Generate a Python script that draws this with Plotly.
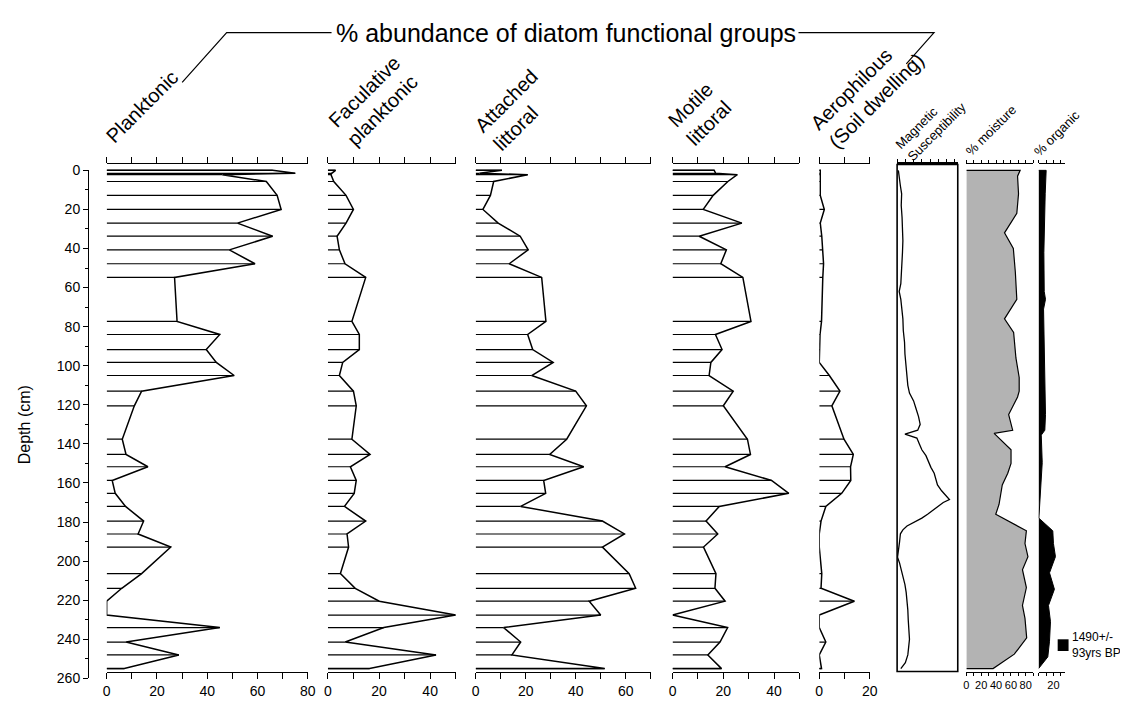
import plotly.graph_objects as go

# screen size and the default 8px body margin of the html page
SW, SH = 1128, 702
OFF = 8
W, H = SW - OFF, SH - OFF

# ---------------- data ----------------
depth = [0, 1.5, 2.2, 5.7, 12.8, 20, 27, 33.7, 40.7, 47.8, 54.8, 77.3, 84, 91.7, 98.3, 105,
         113, 120.5, 137.6, 145.4, 151.7, 158.7, 165.3, 172, 179.5, 186.1, 192.8, 206.4,
         213.9, 220.5, 227.6, 234, 241.4, 248, 255]

planktonic = [66, 75, 46, 63.5, 67.8, 69.4, 52, 66, 48.8, 59, 27, 28, 45, 39.6, 43.6, 50.7,
              13.9, 11, 6.2, 7.7, 16.4, 2.2, 3.4, 7.5, 14.7, 12.5, 25.5, 13.9, 6, 0, 0, 45,
              7.7, 28.7, 7]
facultative = [3, 1.5, 1.2, 2.3, 7.1, 10, 7.1, 3.6, 4.5, 6.7, 14.8, 9.4, 12.3, 12.3, 5.8, 4.5,
               10, 11.1, 9.4, 16.5, 8.8, 11.1, 10.3, 6.5, 14.8, 7.5, 8.1, 4.9, 10.7, 20.1, 50,
               21.9, 6.8, 42.3, 16.3]
attached = [10.5, 1.5, 20.8, 7.2, 5.9, 2.9, 9, 17.8, 21, 13.4, 26.4, 28.1, 20.8, 22.8, 31, 22.4,
            40, 44.3, 36.4, 29.6, 43.2, 27.2, 28, 18, 50.7, 59.5, 50.7, 61.4, 64, 45.4, 50,
            11.2, 18, 14.5, 51.6]
motile = [16.4, 17, 25.5, 21.8, 16, 12.1, 27.3, 10.5, 21.2, 19, 27.7, 30.9, 16.9, 19.5, 15.1,
          14.4, 23.9, 20, 29.5, 30.7, 20.7, 39, 45.8, 18.4, 13.2, 17.8, 12.2, 17.1, 16.7, 20.7,
          0, 21.7, 18.7, 13.9, 19.3]
aerophilous = [0.4, 0.4, 0.4, 0.4, 0.4, 2, 0.4, 1, 1.4, 1.7, 1.4, 0.9, 0.3, 0.2, 0, 4, 8.2, 5,
               9.8, 13.5, 12.4, 12.5, 8.9, 2.6, 0.7, 0, 0, 1, 0.7, 13.9, 0, 0, 2.6, 0, 0.9]

mag_depth = [0, 4, 8, 12, 18, 24, 30, 36, 42, 48, 54, 58, 62, 66, 70, 76, 82, 88, 94, 100, 106,
             110, 114, 118, 122, 126, 130, 133, 135, 137, 140, 143, 146, 149, 152, 155, 158,
             161, 164, 166, 168.5, 170, 172, 174, 176, 178, 180, 182, 184, 186, 190, 194, 198,
             201, 204, 208, 212, 216, 220, 225, 230, 235, 240, 244, 248, 252, 255]
mag_value = [0.15, 0.25, 0.4, 0.55, 0.5, 0.6, 0.65, 0.7, 0.65, 0.6, 0.55, 0.45, 0.25, 0.45, 0.55,
             0.7, 0.75, 0.9, 0.95, 1.05, 1.15, 1.3, 1.5, 2.0, 2.3, 2.6, 2.8, 2.5, 0.95, 2.4, 2.7,
             3.0, 3.5, 3.8, 4.1, 4.5, 4.7, 4.9, 5.4, 5.8, 6.35, 5.6, 5.0, 4.3, 3.7, 3.0, 2.0, 1.2,
             0.7, 0.4, 0.3, 0.2, 0.05, 0.3, 0.5, 0.7, 0.95, 1.1, 1.2, 1.3, 1.35, 1.4, 1.5, 1.4,
             1.3, 1.0, 0.45]

moist_depth = [0, 3, 12, 22, 32, 40, 52, 66, 76, 83, 96, 106, 113, 116, 125, 133, 134.6, 143,
               150, 155, 161, 171, 176, 184.5, 191, 197.7, 204.4, 213.5, 222.7, 229.3, 239.3,
               247.6, 255]
moisture = [72.5, 69, 70.3, 68, 51.4, 63.3, 66, 68, 51.4, 63.7, 66.8, 71.2, 71.2, 69, 57, 62.4,
            37.4, 60.2, 60.2, 55.8, 48.4, 44, 39.6, 80.9, 79, 83, 75.6, 80.9, 75.6, 79, 81.3,
            64.6, 36]

org_depth = [0, 12, 29, 42, 62, 66, 71, 96, 113, 125, 133, 135.5, 149.6, 174.6, 178, 184.5, 191,
             197.7, 206, 214.4, 222.7, 231, 241, 249, 255]
organic = [10.2, 8.9, 8, 7.1, 7.6, 9.3, 6.7, 8, 8.9, 9.3, 8.4, 3.6, 4.9, 1.3, 0.4, 19.1, 20, 22.7,
           14.7, 21.3, 13.3, 16, 14.7, 12.4, 0]

# ---------------- helpers ----------------
FONT = "Liberation Sans, Arial, sans-serif"
NARROW = "Liberation Sans Narrow, Liberation Sans, Arial, sans-serif"


def px(x):
    """screen x pixel -> paper fraction"""
    return (x - OFF) / W


def py(y):
    """screen y pixel -> paper fraction"""
    return 1 - (y - OFF) / H


fig = go.Figure()

panels = [
    ("planktonic", planktonic, "x", (103.7, 307.0), 80),
    ("facultative", facultative, "x2", (327.3, 456.5), 50),
    ("attached", attached, "x3", (476.7, 653.6), 70),
    ("motile", motile, "x4", (675.7, 804.0), 50),
    ("aerophilous", aerophilous, "x5", (824.0, 875.0), 20),
]

layout_axes = {}
for name, vals, ax, (d0, d1), vmax in panels:
    fig.add_trace(go.Scatter(
        x=[0] + vals + [0], y=[depth[0]] + depth + [depth[-1]],
        mode="lines", fill="toself", fillcolor="white",
        line=dict(color="black", width=1.5), xaxis=ax, yaxis="y2",
        hoverinfo="skip", showlegend=False))
    hx, hy = [], []
    for d, v in zip(depth, vals):
        hx += [0, v, None]
        hy += [d, d, None]
    fig.add_trace(go.Scatter(
        x=hx, y=hy, mode="lines", line=dict(color="black", width=1.2),
        xaxis=ax, yaxis="y2", hoverinfo="skip", showlegend=False))
    tv = list(range(0, vmax + 1, 10))
    tt = [str(t) if t % 20 == 0 else "" for t in tv]
    key = "xaxis" if ax == "x" else "xaxis" + ax[1:]
    layout_axes[key] = dict(
        domain=[px(d0), px(d1)], range=[0, vmax], anchor="y2",
        showline=True, linecolor="black", linewidth=1.4, mirror="ticks",
        ticks="outside", ticklen=6, tickwidth=1.2, tickcolor="black",
        tickvals=tv, ticktext=tt,
        tickfont=dict(family=FONT, size=14, color="black"),
        showgrid=False, zeroline=False)

# magnetic susceptibility
fig.add_trace(go.Scatter(x=mag_value, y=mag_depth, mode="lines",
                         line=dict(color="black", width=1.3), xaxis="x6", yaxis="y2",
                         hoverinfo="skip", showlegend=False))
layout_axes["xaxis6"] = dict(
    domain=[px(902.7), px(964.0)], range=[0, 7.36], anchor="y2", side="top",
    showline=True, linecolor="black", linewidth=2.2, ticks="outside", ticklen=3,
    tickcolor="black", tickvals=list(range(0, 8)), showticklabels=False,
    showgrid=False, zeroline=False)

# moisture
fig.add_trace(go.Scatter(x=[0] + moisture + [0],
                         y=[moist_depth[0]] + moist_depth + [moist_depth[-1]],
                         mode="lines", fill="toself", fillcolor="#b3b3b3",
                         line=dict(color="black", width=1.2), xaxis="x7", yaxis="y2",
                         hoverinfo="skip", showlegend=False))
mv = list(range(0, 91, 10))
layout_axes["xaxis7"] = dict(
    domain=[px(972.7), px(1040.2)], range=[0, 90], anchor="y2",
    showline=True, linecolor="black", linewidth=1.3, mirror="ticks",
    ticks="outside", ticklen=3, tickcolor="black", tickvals=mv,
    ticktext=[str(t) if t % 20 == 0 else "" for t in mv],
    tickfont=dict(family=NARROW, size=11, color="black"),
    showgrid=False, zeroline=False)

# organic
fig.add_trace(go.Scatter(x=[0] + organic + [0],
                         y=[org_depth[0]] + org_depth + [org_depth[-1]],
                         mode="lines", fill="toself", fillcolor="black",
                         line=dict(color="black", width=1), xaxis="x8", yaxis="y2",
                         hoverinfo="skip", showlegend=False))
ov = [0, 10, 20, 30]
layout_axes["xaxis8"] = dict(
    domain=[px(1045.7), px(1072.0)], range=[0, 35], anchor="y2",
    showline=True, linecolor="black", linewidth=1.3, mirror="ticks",
    ticks="outside", ticklen=3, tickcolor="black", tickvals=ov,
    ticktext=["", "", "20", ""],
    tickfont=dict(family=NARROW, size=11, color="black"),
    showgrid=False, zeroline=False)

# dummy trace for the depth axis
fig.add_trace(go.Scatter(x=[None], y=[None], xaxis="x9", yaxis="y",
                         showlegend=False, hoverinfo="skip"))
layout_axes["xaxis9"] = dict(visible=False, domain=[0, 0.01], anchor="y", range=[0, 1])

fig.update_layout(
    width=W, height=H, margin=dict(l=0, r=0, t=0, b=0),
    paper_bgcolor="white", plot_bgcolor="rgba(0,0,0,0)",
    showlegend=False,
    yaxis=dict(domain=[py(686), py(166)], range=[260, 0], anchor="free",
               position=px(85), side="left", showline=True, linecolor="black",
               linewidth=1.4, ticks="outside", ticklen=5, tickwidth=1.2, tickcolor="black",
               tick0=0, dtick=20,
               minor=dict(dtick=10, ticks="outside", ticklen=3, tickcolor="black"),
               tickfont=dict(family=FONT, size=14, color="black"),
               showgrid=False, zeroline=False),
    yaxis2=dict(domain=[py(679), py(160)], range=[256.5, -3], visible=False,
                anchor="x"),
    **layout_axes,
)

# ---------------- annotations ----------------
ann = []


def label(text, cx, cy, size):
    ann.append(dict(text=text, x=px(cx), y=py(cy), xref="paper", yref="paper",
                    xanchor="center", yanchor="middle", textangle=-45, align="left",
                    showarrow=False, font=dict(family=FONT, size=size, color="black")))


label("Planktonic", 139, 101, 20)
label("Faculative<br>planktonic", 373.3, 94.9, 20)
label("Attached<br>littoral", 517, 104.2, 20)
label("Motile<br>littoral", 703, 108.2, 20)
label("Aerophilous<br>(Soil dwelling)", 873.1, 85.1, 20)
label("Magnetic<br>Susceptibility", 936.6, 120.8, 13)
label("% moisture", 997.7, 125.7, 13)
label("% organic", 1064.1, 128.3, 13)

ann.append(dict(text="% abundance of diatom functional groups", x=px(333), y=py(25),
                xref="paper", yref="paper", xanchor="left", yanchor="middle",
                showarrow=False, font=dict(family=FONT, size=25, color="black")))
ann.append(dict(text="Depth (cm)", x=px(20), y=py(426), xref="paper", yref="paper",
                xanchor="center", yanchor="middle", textangle=-90, showarrow=False,
                font=dict(family=FONT, size=16, color="black")))
ann.append(dict(text="1490+/-<br>93yrs BP", x=px(1077), y=py(652), xref="paper",
                yref="paper", xanchor="left", yanchor="middle", align="left",
                showarrow=False, font=dict(family=NARROW, size=12, color="black")))

shapes = [
    dict(type="path", xref="paper", yref="paper",
         path=f"M {px(180)} {py(76)} L {px(225)} {py(25)} L {px(331)} {py(25)}",
         line=dict(color="black", width=1.2)),
    dict(type="path", xref="paper", yref="paper",
         path=f"M {px(803)} {py(25)} L {px(940)} {py(25)} L {px(912)} {py(57)}",
         line=dict(color="black", width=1.2)),
    dict(type="rect", xref="x6 domain", yref="y2 domain", x0=0, x1=1, y0=0, y1=1,
         line=dict(color="black", width=1.6)),
    dict(type="rect", xref="paper", yref="paper", x0=px(1065), x1=px(1076),
         y0=py(658), y1=py(646), fillcolor="black", line=dict(color="black", width=0)),
]

fig.update_layout(annotations=ann, shapes=shapes)
fig.write_html("out.html")
